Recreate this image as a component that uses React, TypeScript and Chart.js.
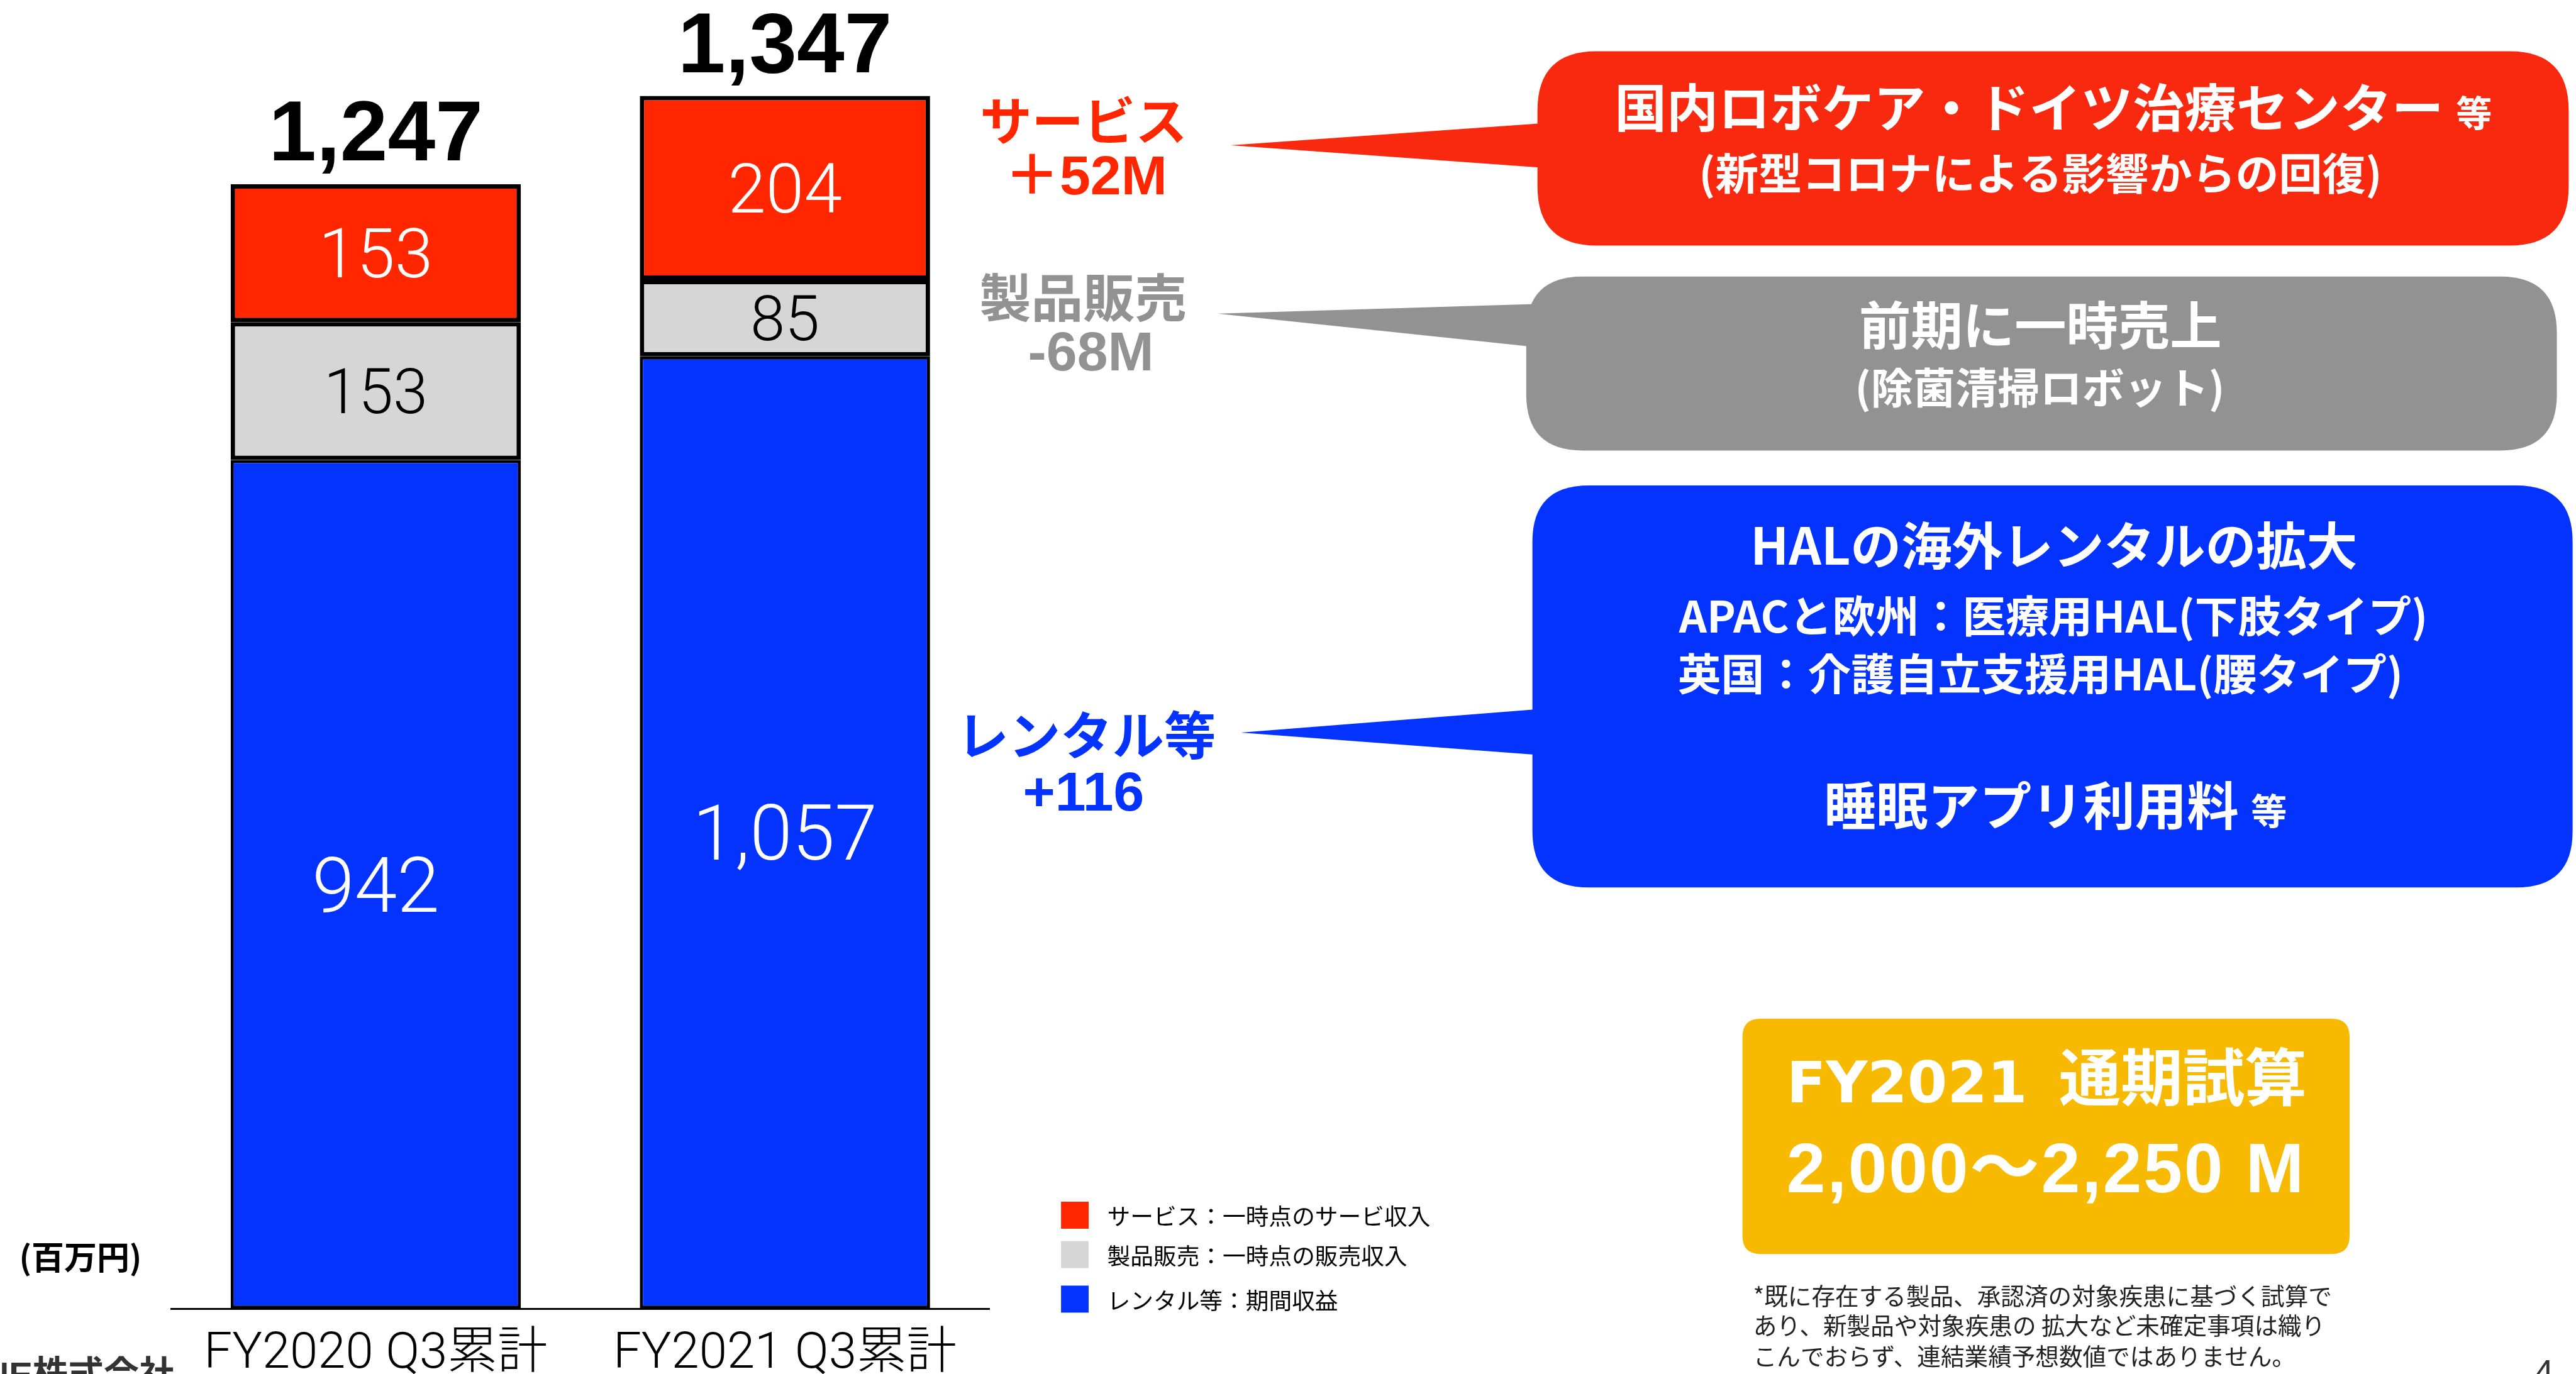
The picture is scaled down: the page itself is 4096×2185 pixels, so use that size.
import React, { useEffect, useRef } from 'react';
import { Chart, registerables } from 'chart.js';

Chart.register(...registerables);

// ---------- data ----------
const categories = ['FY2020 Q3累計', 'FY2021 Q3累計'];
const rentalValues = [942, 1057];
const productValues = [153, 85];
const serviceValues = [153, 204];
const totalValues = [1247, 1347];
const seriesLabels = ['レンタル等：期間収益', '製品販売：一時点の販売収入', 'サービス：一時点のサービ収入'];
const deltaTitles = ['サービス', '製品販売', 'レンタル等'];
const deltaValues = ['＋52M', '-68M', '+116'];
const unitLabel = '(百万円)';
const serviceNotes = ['国内ロボケア・ドイツ治療センター', '(新型コロナによる影響からの回復)'];
const productNotes = ['前期に一時売上', '(除菌清掃ロボット)'];
const rentalNotes = ['HALの海外レンタルの拡大', 'APACと欧州：医療用HAL(下肢タイプ)', '英国：介護自立支援用HAL(腰タイプ)', '睡眠アプリ利用料'];
const etcMark = '等';
const forecastTitle = ['FY2021', '通期試算'];
const forecastRange = '2,000〜2,250 M';
const footnoteLines = [
  '*既に存在する製品、承認済の対象疾患に基づく試算で',
  'あり、新製品や対象疾患の 拡大など未確定事項は織り',
  'こんでおらず、連結業績予想数値ではありません。',
];
const companyText = 'CYBERDYNE株式会社';
const pageNumber = '4';

// ---------- style ----------
const W = 4096;
const H = 2185;
const K = W / 4574;
const S = (v: number) => v * K;

const JP = '"Noto Sans CJK JP", sans-serif';
const HB = '"Liberation Sans", "Noto Sans CJK JP", sans-serif';
const DV = '"DejaVu Sans", "Liberation Sans", sans-serif';
const LIGHT = 'Roboto, "Noto Sans CJK JP", sans-serif';

const BAR_COLORS = ['#0433FF', '#D6D6D6', '#FF2600'];
const BAR_BORDERS = [5, 7, 7];
const VALUE_FONT = [136, 111, 122];
const VALUE_COLOR = ['#FFFFFF', '#000000', '#FFFFFF'];
const DELTA_COLORS = ['#FF2600', '#929292', '#0433FF'];

function f(weight: string | number, sizeFull: number, family: string) {
  return `${weight} ${S(sizeFull)}px ${family}`;
}

function text(
  ctx: CanvasRenderingContext2D,
  str: string,
  x: number,
  y: number,
  font: string,
  color: string,
  align: CanvasTextAlign = 'center',
  baseline: CanvasTextBaseline = 'middle'
) {
  ctx.font = font;
  ctx.fillStyle = color;
  ctx.textAlign = align;
  ctx.textBaseline = baseline;
  ctx.fillText(str, S(x), S(y));
}

function roundRect(ctx: CanvasRenderingContext2D, x1: number, y1: number, x2: number, y2: number, r: number) {
  const x = S(x1), y = S(y1), w = S(x2 - x1), h = S(y2 - y1), rr = S(r);
  ctx.beginPath();
  ctx.moveTo(x + rr, y);
  ctx.lineTo(x + w - rr, y);
  ctx.quadraticCurveTo(x + w, y, x + w, y + rr);
  ctx.lineTo(x + w, y + h - rr);
  ctx.quadraticCurveTo(x + w, y + h, x + w - rr, y + h);
  ctx.lineTo(x + rr, y + h);
  ctx.quadraticCurveTo(x, y + h, x, y + h - rr);
  ctx.lineTo(x, y + rr);
  ctx.quadraticCurveTo(x, y, x + rr, y);
  ctx.closePath();
}

function callout(
  ctx: CanvasRenderingContext2D,
  color: string,
  box: number[],
  r: number,
  tip: number[],
  b1: number[],
  b2: number[]
) {
  ctx.fillStyle = color;
  ctx.beginPath();
  ctx.moveTo(S(tip[0]), S(tip[1]));
  ctx.lineTo(S(b1[0]), S(b1[1]));
  ctx.lineTo(S(b2[0]), S(b2[1]));
  ctx.closePath();
  ctx.fill();
  roundRect(ctx, box[0], box[1], box[2], box[3], r);
  ctx.fill();
}

function groupWithEtc(
  ctx: CanvasRenderingContext2D,
  main: string,
  mainSize: number,
  cx: number,
  cy: number,
  smallSize: number,
  smallDy: number,
  gap: number,
  color: string
) {
  ctx.font = f('bold', mainSize, JP);
  const w1 = ctx.measureText(main).width;
  ctx.font = f('bold', smallSize, JP);
  const w2 = ctx.measureText(etcMark).width;
  const total = w1 + S(gap) + w2;
  const start = S(cx) - total / 2;
  ctx.fillStyle = color;
  ctx.textBaseline = 'middle';
  ctx.textAlign = 'left';
  ctx.font = f('bold', mainSize, JP);
  ctx.fillText(main, start, S(cy));
  ctx.font = f('bold', smallSize, JP);
  ctx.fillText(etcMark, start + w1 + S(gap), S(cy + smallDy));
}

const slidePlugin = {
  id: 'slideAnnotations',
  afterDraw(chart: any) {
    const ctx: any = chart.ctx;
    ctx.save();

    // values inside bars
    chart.data.datasets.forEach((ds: any, di: number) => {
      const meta = chart.getDatasetMeta(di);
      meta.data.forEach((el: any, i: number) => {
        const p = el.getProps(['x', 'y', 'base'], true);
        const cy = (p.y + p.base) / 2;
        const size = S(VALUE_FONT[di]);
        ctx.font = `300 ${size}px ${LIGHT}`;
        ctx.fillStyle = VALUE_COLOR[di];
        ctx.textAlign = 'center';
        ctx.textBaseline = 'alphabetic';
        ctx.fillText(Number(ds.data[i]).toLocaleString('en-US'), p.x, cy + size * 0.711 / 2);
      });
    });

    // totals above bars
    const n = chart.data.labels.length;
    for (let i = 0; i < n; i++) {
      let top = Infinity;
      let x = 0;
      chart.data.datasets.forEach((_: any, di: number) => {
        const el = chart.getDatasetMeta(di).data[i];
        const p = el.getProps(['x', 'y'], true);
        top = Math.min(top, p.y);
        x = p.x;
      });
      ctx.font = `bold ${S(152)}px "Liberation Sans", Arial, sans-serif`;
      ctx.fillStyle = '#000';
      ctx.textAlign = 'center';
      ctx.textBaseline = 'alphabetic';
      ctx.fillText(totalValues[i].toLocaleString('en-US'), x, top - S(42));
    }

    // unit label & footer fragments
    text(ctx, unitLabel, 34, 2233, f('bold', 58, JP), '#000', 'left');
    text(ctx, companyText, 310, 2414, f('bold', 63, HB), '#333', 'right', 'top');
    text(ctx, pageNumber, 4500, 2410, f('normal', 62, HB), '#333', 'left', 'top');

    // legend
    const legendTops = [2134, 2204, 2283];
    const order = [2, 1, 0];
    order.forEach((di, k) => {
      const ds = chart.data.datasets[di];
      ctx.fillStyle = ds.backgroundColor;
      ctx.fillRect(S(1884), S(legendTops[k]), S(49), S(48));
      text(ctx, ds.label, 1966, legendTops[k] + 26, f('normal', 41, JP), '#000', 'left');
    });

    // delta labels
    const titleY = [214, 528, 1305];
    const titleX = [1924, 1923, 1929];
    const valY = [345, 658, 1439];
    const valX = [1928, 1937, 1924];
    deltaTitles.forEach((t, k) => {
      text(ctx, t, titleX[k], titleY[k], f('bold', 92, JP), DELTA_COLORS[k]);
      text(ctx, deltaValues[k], valX[k], valY[k], f('bold', 98, HB), DELTA_COLORS[k], 'center', 'alphabetic');
    });

    // callouts
    callout(ctx, '#F9290F', [2730, 91, 4561, 436], 105, [2185, 258], [2740, 219], [2740, 298]);
    callout(ctx, '#929292', [2710, 491, 4540, 800], 100, [2162, 557], [2725, 540], [2725, 616]);
    callout(ctx, '#0433FF', [2721, 862, 4568, 1576], 100, [2203, 1301], [2735, 1259], [2735, 1341]);

    // red callout text
    groupWithEtc(ctx, serviceNotes[0], 92, 3646, 191, 64, 9, 22, '#FFF');
    text(ctx, serviceNotes[1], 3623, 308, f('bold', 77, JP), '#FFF');
    // grey callout text
    text(ctx, productNotes[0], 3623, 577, f('bold', 92, JP), '#FFF');
    text(ctx, productNotes[1], 3622, 688, f('bold', 75, JP), '#FFF');
    // blue callout text
    text(ctx, rentalNotes[0], 3647, 969, f('bold', 90, JP), '#FFF');
    text(ctx, rentalNotes[1], 3646, 1094, f('bold', 77, JP), '#FFF');
    text(ctx, rentalNotes[2], 3623, 1197, f('bold', 77, JP), '#FFF');
    groupWithEtc(ctx, rentalNotes[3], 92, 3650, 1430, 64, 10, 22, '#FFF');

    // forecast box
    ctx.fillStyle = '#F8BA00';
    roundRect(ctx, 3094, 1809, 4172, 2227, 32);
    ctx.fill();
    {
      ctx.textAlign = 'left';
      ctx.fillStyle = '#FFF';
      ctx.font = f('bold', 102, DV);
      const w1 = ctx.measureText(forecastTitle[0]).width;
      ctx.font = f('bold', 110, JP);
      const w2 = ctx.measureText(forecastTitle[1]).width;
      const gap = S(56);
      const start = S(3634) - (w1 + gap + w2) / 2;
      ctx.textBaseline = 'alphabetic';
      ctx.font = f('bold', 102, DV);
      ctx.fillText(forecastTitle[0], start, S(1958));
      ctx.textBaseline = 'middle';
      ctx.font = f('bold', 110, JP);
      ctx.fillText(forecastTitle[1], start + w1 + gap, S(1912));
      ctx.font = f('bold', 124, HB);
      ctx.letterSpacing = `${S(3)}px`;
      ctx.textAlign = 'center';
      ctx.textBaseline = 'alphabetic';
      ctx.fillText(forecastRange, S(3633), S(2117));
      ctx.letterSpacing = '0px';
    }

    // footnote
    const fnY = [2301, 2354, 2408];
    footnoteLines.forEach((l, k) => text(ctx, l, 3113, fnY[k], f('normal', 42, JP), '#222', 'left'));

    ctx.restore();
  },
};

export default function App() {
  const ref = useRef<HTMLCanvasElement | null>(null);

  useEffect(() => {
    document.body.style.margin = '0';
    const canvas = ref.current;
    if (!canvas) return;
    const chart = new Chart(canvas, {
      type: 'bar',
      data: {
        labels: categories,
        datasets: [
          { label: seriesLabels[0], data: rentalValues, backgroundColor: BAR_COLORS[0], borderColor: '#000', borderWidth: BAR_BORDERS[0], borderSkipped: false },
          { label: seriesLabels[1], data: productValues, backgroundColor: BAR_COLORS[1], borderColor: '#000', borderWidth: BAR_BORDERS[1], borderSkipped: false },
          { label: seriesLabels[2], data: serviceValues, backgroundColor: BAR_COLORS[2], borderColor: '#000', borderWidth: BAR_BORDERS[2], borderSkipped: false },
        ],
      },
      options: {
        responsive: false,
        maintainAspectRatio: false,
        animation: false,
        devicePixelRatio: 1,
        layout: { padding: { left: S(304), right: W - S(1757), top: S(2324) - 1400 * 1.6 * K, bottom: 0 } },
        datasets: { bar: { categoryPercentage: 1, barPercentage: 515 / 726 } },
        plugins: { legend: { display: false }, tooltip: { enabled: false } },
        scales: {
          x: {
            stacked: true,
            grid: { display: false, drawTicks: false },
            border: { display: true, color: '#000', width: 3, z: 1 },
            ticks: { color: '#000', padding: 26, font: { family: LIGHT, size: S(89), weight: '300' } },
            afterFit: (scale: any) => { scale.height = H - S(2324); },
          },
          y: { stacked: true, display: false, min: 0, max: 1400 },
        },
      },
      plugins: [slidePlugin],
    } as any);
    return () => chart.destroy();
  }, []);

  return (
    <div style={{ position: 'absolute', left: 0, top: 0, width: W, height: H, background: '#fff' }}>
      <canvas ref={ref} width={W} height={H} style={{ display: 'block', width: W, height: H }} />
    </div>
  );
}
